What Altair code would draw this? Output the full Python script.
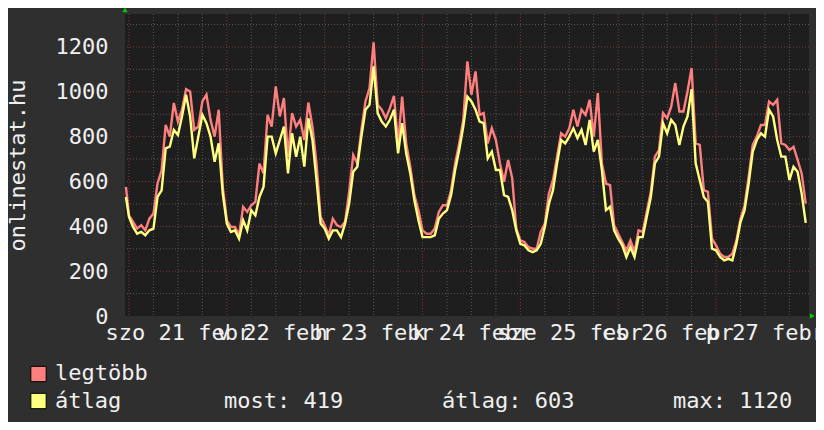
import json
import altair as alt
import pandas as pd

# ---------------- data ----------------
hours = [-0.75] + list(range(0, 167))

legtobb = [576,
    449, 420, 390, 405, 382, 434, 457, 591, 650, 852, 800, 950, 867, 920, 1012, 1001, 830, 845, 957, 987, 875, 800, 920, 576,
    427, 397, 397, 360, 487, 464, 494, 509, 680, 636, 897, 845, 1024, 890, 972, 711, 905, 845, 875, 785, 952, 845, 680, 442,
    405, 360, 434, 405, 397, 420, 554, 718, 680, 830, 957, 1016, 1221, 942, 920, 882, 927, 982, 770, 979, 770, 666, 539, 472,
    382, 367, 367, 390, 464, 494, 494, 561, 680, 770, 875, 1136, 987, 1091, 897, 905, 770, 837, 785, 680, 599, 696, 614, 390,
    337, 330, 307, 300, 300, 375, 412, 546, 606, 711, 815, 800, 837, 920, 845, 920, 897, 964, 800, 994, 680, 591, 584, 405,
    367, 330, 292, 337, 285, 382, 375, 464, 554, 711, 740, 905, 882, 934, 1039, 912, 912, 1001, 1106, 770, 763, 561, 554, 345,
    315, 278, 263, 263, 278, 337, 434, 494, 621, 763, 800, 852, 852, 957, 942, 964, 770, 763, 740, 755, 696, 636, 501]

atlag = [531,
    442, 397, 367, 375, 360, 382, 390, 531, 560, 748, 755, 830, 807, 890, 987, 890, 703, 800, 897, 860, 800, 688, 770, 546,
    412, 375, 382, 345, 427, 382, 472, 449, 531, 576, 800, 800, 725, 785, 845, 636, 815, 710, 800, 666, 882, 785, 606, 412,
    390, 345, 382, 382, 352, 412, 501, 643, 666, 800, 920, 942, 1113, 905, 867, 845, 875, 920, 725, 860, 725, 636, 516, 427,
    352, 352, 352, 360, 434, 457, 472, 539, 651, 740, 845, 979, 957, 920, 867, 860, 703, 733, 651, 651, 539, 531, 472, 382,
    322, 315, 293, 285, 293, 322, 397, 501, 561, 681, 785, 770, 800, 837, 793, 830, 763, 875, 733, 785, 651, 472, 487, 382,
    345, 315, 263, 307, 263, 352, 352, 442, 531, 681, 711, 860, 815, 875, 852, 763, 845, 890, 1012, 681, 606, 531, 509, 300,
    293, 263, 248, 255, 248, 322, 419, 472, 591, 733, 785, 815, 800, 920, 890, 785, 711, 711, 606, 666, 643, 546, 415]

day_labels = ["szo 21 febr", "v 22 febr", "h 23 febr", "k 24 febr", "sze 25 febr", "cs 26 febr", "p 27 febr"]
label_hours = [12, 36, 60, 84, 108, 132, 156]
y_labels = [0, 200, 400, 600, 800, 1000, 1200]
y_minor = [100, 300, 500, 700, 900, 1100, 1300]
y_major = [200, 400, 600, 800, 1000, 1200]
x_major = [0, 24, 48, 72, 96, 120, 144]
x_minor = [h for h in range(6, 167, 6) if h % 24 != 0]

series_names = ["legtöbb", "átlag"]
series_colors = ["#ff7f7f", "#ffff80"]
stats_text = ["most: 419", "átlag: 603", "max: 1120"]

# ---------------- chart ----------------
FONT = "DejaVu Sans Mono"
TXT = "#f0f0f0"
X_DOM = [-0.98, 166.8]
Y_DOM = [0, 1347]
xs = alt.Scale(domain=X_DOM, nice=False, zero=False)
ys = alt.Scale(domain=Y_DOM, nice=False, zero=False)

df_red = pd.DataFrame({"h": hours, "v": legtobb})
df_yel = pd.DataFrame({"h": hours, "v": atlag})

label_expr = json.dumps(day_labels) + "[round((datum.value-12)/24)]"

x_axis = alt.Axis(values=label_hours, labelExpr=label_expr, labelOverlap=False, labelFlush=False,
                  labelBound=False, ticks=False, domain=False, grid=False, title=None,
                  labelFont=FONT, labelFontSize=22, labelColor=TXT, labelPadding=23,
                  labelBaseline="alphabetic", labelAlign="center")
y_axis = alt.Axis(values=y_labels, format="d", ticks=False, domain=False, grid=False,
                  labelFont=FONT, labelFontSize=22, labelColor=TXT, labelPadding=17,
                  labelBaseline="middle", labelAlign="right",
                  title="onlinestat.hu", titleFont=FONT, titleFontSize=22, titleFontWeight="normal",
                  titleColor=TXT, titleAngle=270, titleX=-101, titleY=151,
                  titleBaseline="alphabetic", titleAlign="center")

X = lambda f: alt.X(f, scale=xs, axis=x_axis)
Y = lambda f: alt.Y(f, scale=ys, axis=y_axis)

grid_gray = "#565656"
grid_red = "#7a3a3a"

g1 = alt.Chart(pd.DataFrame({"v": y_minor})).mark_rule(color=grid_gray, strokeDash=[1, 2], strokeWidth=1).encode(
    y=Y("v:Q"))
g2 = alt.Chart(pd.DataFrame({"h": x_minor})).mark_rule(color=grid_gray, strokeDash=[1, 2], strokeWidth=1).encode(
    x=X("h:Q"))
g3 = alt.Chart(pd.DataFrame({"v": y_major})).mark_rule(color=grid_red, strokeDash=[1, 2], strokeWidth=1).encode(
    y=Y("v:Q"))
g4 = alt.Chart(pd.DataFrame({"h": x_major})).mark_rule(color=grid_red, strokeDash=[1, 2], strokeWidth=1).encode(
    x=X("h:Q"))

red = alt.Chart(df_red).mark_line(color=series_colors[0], strokeWidth=2.4, interpolate="linear").encode(
    x=X("h:Q"), y=Y("v:Q"))
yel = alt.Chart(df_yel).mark_line(color=series_colors[1], strokeWidth=2.4, interpolate="linear").encode(
    x=X("h:Q"), y=Y("v:Q"))

arrows = alt.Chart(pd.DataFrame({"h": [X_DOM[0], 167.6], "v": [1365, 0], "shape": ["triangle-up", "triangle-right"]})).mark_point(
    filled=True, color="#00cc00", size=30, opacity=1).encode(
    x=X("h:Q"), y=Y("v:Q"),
    shape=alt.Shape("shape:N", scale=None, legend=None))

leg_sq1 = alt.Chart(pd.DataFrame({"n": [series_names[0]]})).mark_point(
    shape="square", filled=True, fill=series_colors[0], stroke="#000000", strokeWidth=1, size=235, opacity=1).encode(
    x=alt.value(-86.5), y=alt.value(360))
leg_sq2 = alt.Chart(pd.DataFrame({"n": [series_names[1]]})).mark_point(
    shape="square", filled=True, fill=series_colors[1], stroke="#000000", strokeWidth=1, size=235, opacity=1).encode(
    x=alt.value(-86.5), y=alt.value(387))

def txt(s, x, y):
    return alt.Chart(pd.DataFrame({"t": [s]})).mark_text(
        font=FONT, fontSize=22, color=TXT, align="left", baseline="alphabetic").encode(
        text="t:N", x=alt.value(x), y=alt.value(y))

legend_layers = [leg_sq1, leg_sq2,
                 txt(series_names[0], -70, 366), txt(series_names[1], -70, 394),
                 txt(stats_text[0], 99, 394), txt(stats_text[1], 317, 394), txt(stats_text[2], 548, 394)]

chart = alt.layer(g1, g2, g3, g4, red, yel, arrows, *legend_layers).properties(
    width=684, height=302,
    autosize=alt.AutoSizeParams(type="none"),
    padding={"left": 117, "top": 6, "right": 7, "bottom": 106},
    background="#2f2f2f",
).configure_view(fill="#1e1e1e", stroke=None)

chart.save("out.html", embed_options={"renderer": "svg", "actions": False})
